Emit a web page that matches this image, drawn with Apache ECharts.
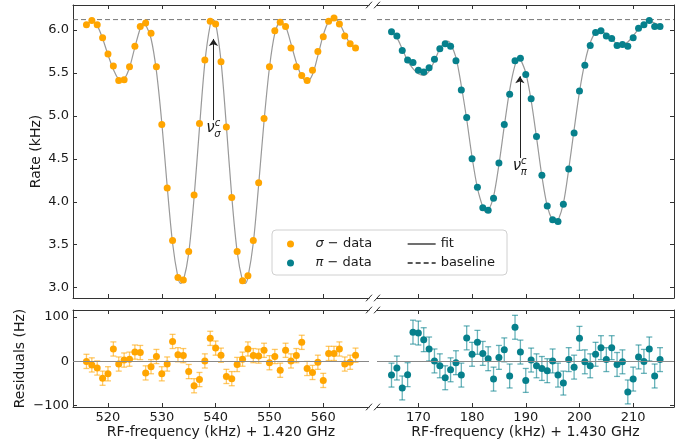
<!DOCTYPE html>
<html>
<head>
<meta charset="utf-8">
<script src="https://cdn.jsdelivr.net/npm/echarts@6/dist/echarts.min.js"></script>
<style>
    html, body { margin: 0; padding: 0; background: #fff; }
    #chart { width: 694px; height: 446px; }
</style>
</head>
<body>
<div id="chart"></div>
<script>
    // sigma data (left panel), kHz + 1.420 GHz
    var freqSigma = [516, 517, 518, 519, 520, 521, 522, 523, 524, 525, 526, 527, 528, 529, 530, 531, 532, 533, 534, 535, 536,
        537, 538, 539, 540, 541, 542, 543, 544, 545, 546, 547, 548, 549, 550, 551, 552, 553, 554, 555, 556, 557, 558,
        559, 560, 561, 562, 563, 564, 565, 566];
    var rateSigma = [6.06, 6.11, 6.06, 5.91, 5.72, 5.58, 5.41, 5.42, 5.57, 5.81, 6.04, 6.08, 5.96, 5.57, 4.90,
        4.16, 3.55, 3.12, 3.09, 3.42, 4.08, 4.91, 5.65, 6.10, 6.07, 5.63, 4.87, 4.05, 3.42, 3.08, 3.14, 3.55, 4.22,
        4.97, 5.57, 5.99, 6.09, 6.04, 5.79, 5.57, 5.47, 5.41, 5.53, 5.75, 5.92, 6.10, 6.14, 6.07, 5.93, 5.84, 5.79];
    var resSigma = [0, -8, -15, -38, -28, 28, -6, 3, 5, 21, 20, -26, -12, 11, -28, -6, 45, 15, 13, -23, -55, -41, 1,
        52, 30, 14, -34, -39, -7, 5, 28, 13, 12, 25, -3, 11, -20, 25, 1, 13, 43, -16, -25, -2, -43, 18, 18, 28, -6, -2, 14];
    var fitSigmaX = [516, 517, 518, 519, 520, 521, 522, 522.5, 523, 524, 525, 526, 526.5, 527, 528, 529, 530, 531, 532,
        533, 533.5, 534, 535, 536, 537, 538, 539, 539.5, 540, 541, 542, 543, 544, 545, 545.5, 546, 547, 548, 549, 550,
        551, 552, 553, 554, 555, 556, 557, 558, 559, 560, 561, 562, 563, 564, 565, 566];
    var fitSigmaY = [6.05, 6.11, 6.05, 5.90, 5.71, 5.54, 5.42, 5.40, 5.42, 5.56, 5.80, 6.02, 6.08, 6.06, 5.90, 5.52,
        4.92, 4.18, 3.52, 3.12, 3.05, 3.08, 3.40, 4.05, 4.86, 5.62, 6.06, 6.12, 6.08, 5.64, 4.88, 4.06, 3.42, 3.08, 3.05,
        3.12, 3.52, 4.20, 4.94, 5.56, 5.96, 6.09, 6.04, 5.84, 5.62, 5.46, 5.40, 5.48, 5.70, 5.94, 6.10, 6.14, 6.08,
        5.95, 5.84, 5.79];

    // pi data (right panel), kHz + 1.430 GHz
    var freqPi = [165, 166, 167, 168, 169, 170, 171, 172, 173, 174, 175, 176, 177, 178, 179, 180, 181, 182, 183, 184,
        185, 186, 187, 188, 189, 190, 191, 192, 193, 194, 195, 196, 197, 198, 199, 200, 201, 202, 203, 204, 205, 206,
        207, 208, 209, 210, 211, 212, 213, 214, 215];
    var ratePi = [5.98, 5.93, 5.76, 5.65, 5.62, 5.53, 5.51, 5.56, 5.66, 5.78, 5.84, 5.81, 5.64, 5.30, 4.98, 4.50,
        4.17, 3.93, 3.90, 4.04, 4.45, 4.90, 5.25, 5.64, 5.67, 5.48, 5.20, 4.76, 4.31, 3.95, 3.79, 3.77, 3.97, 4.38,
        4.80, 5.29, 5.59, 5.82, 5.97, 5.99, 5.93, 5.90, 5.82, 5.83, 5.81, 5.91, 6.02, 6.06, 6.11, 6.04, 6.04];
    var resPi = [-31, -15, -60, -30, 66, 64, 49, 28, 1, -10, -37, -19, -3, -31, 53, 16, 43, 18, 6, -40, 9, 26, -33,
        77, 21, -43, 3, -10, -16, -21, 1, -31, -49, 4, -13, 52, -1, -10, 16, 31, 4, 31, -7, -1, -69, -40, 10, 0, 28, -33, 4];
    var fitPiX = [165, 166, 167, 168, 169, 170, 171, 172, 173, 174, 175, 175.5, 176, 177, 178, 179, 180, 181, 182,
        182.5, 183, 184, 185, 186, 187, 188, 188.7, 189, 190, 191, 192, 193, 194, 195, 195.5, 196, 197, 198, 199, 200,
        201, 202, 203, 204, 205, 206, 207, 208, 209, 210, 211, 212, 213, 214, 215];
    var fitPiY = [5.99, 5.91, 5.78, 5.64, 5.55, 5.49, 5.47, 5.52, 5.64, 5.78, 5.86, 5.87, 5.84, 5.68, 5.35, 4.96,
        4.52, 4.16, 3.94, 3.88, 3.89, 4.06, 4.43, 4.88, 5.30, 5.59, 5.67, 5.66, 5.50, 5.18, 4.75, 4.30, 3.95, 3.78,
        3.76, 3.78, 3.98, 4.38, 4.84, 5.28, 5.62, 5.85, 5.97, 5.99, 5.95, 5.89, 5.84, 5.83, 5.86, 5.93, 6.01, 6.07,
        6.10, 6.08, 6.05];

    var baseline = 6.12;
    var errSigma = 16;   // Hz
    var errPi = 27;      // Hz

    // resonance markers: [x, arrow start, arrow end]
    var arrowSigma = [539.6, 4.95, 5.895];
    var arrowPi = [188.9, 4.51, 5.46];

    // axis limits and ticks
    var xLimSigma = [513.5, 568.5];
    var xLimPi = [162.3, 217.6];
    var yLimRate = [2.88, 6.29];
    var yLimRes = [-103, 116];
    var xTicksSigma = [520, 530, 540, 550, 560];
    var xTicksPi = [170, 180, 190, 200, 210];
    var yTicksRate = [3.0, 3.5, 4.0, 4.5, 5.0, 5.5, 6.0];
    var yTicksRes = [-100, 0, 100];

    var FONT = 'DejaVu Sans';
    var ORANGE = '#ffa500';
    var TEAL = '#06808c';
    var SPINE = '#333';
    var TXT = '#1a1a1a';

    // panel geometry (px)
    var L = { left: 73, width: 296 };
    var R = { left: 377, width: 297 };
    var TOP = { top: 5, height: 293 };
    var BOT = { top: 310, height: 97 };

    function zip(a, b) {
        var out = [];
        for (var i = 0; i < a.length; i++) {
            out.push([a[i], b[i]]);
        }
        return out;
    }

    function axis(gridIndex, position, lim, ticks, labels, extra) {
        var ax = {
            type: 'value',
            gridIndex: gridIndex,
            position: position,
            min: lim[0],
            max: lim[1],
            axisLine: { show: true, onZero: false, lineStyle: { color: SPINE, width: 1 } },
            axisTick: { show: true, inside: true, length: 4, customValues: ticks, lineStyle: { color: SPINE, width: 1 } },
            axisLabel: {
                show: labels, customValues: ticks, margin: 4,
                fontFamily: FONT, fontSize: 13, color: TXT
            },
            splitLine: { show: false }
        };
        for (var k in extra) {
            ax[k] = extra[k];
        }
        return ax;
    }

    function errBars(err, color) {
        return function (params, api) {
            var x = api.value(0), y = api.value(1);
            var lo = api.coord([x, y - err]);
            var hi = api.coord([x, y + err]);
            var cap = 3;
            var st = { stroke: color, lineWidth: 1.3 };
            return {
                type: 'group',
                children: [
                    { type: 'line', shape: { x1: lo[0], y1: lo[1], x2: hi[0], y2: hi[1] }, style: st },
                    { type: 'line', shape: { x1: lo[0] - cap, y1: lo[1], x2: lo[0] + cap, y2: lo[1] }, style: st },
                    { type: 'line', shape: { x1: hi[0] - cap, y1: hi[1], x2: hi[0] + cap, y2: hi[1] }, style: st }
                ]
            };
        };
    }

    var nameStyle = { fontFamily: FONT, fontSize: 14, color: TXT };
    var minusFmt = function (v) { return String(v).replace('-', '\u2212'); };
    var oneDec = function (v) { return v.toFixed(1); };

    var xAxes = [
        axis(0, 'bottom', xLimSigma, xTicksSigma, false, {}),
        axis(0, 'top', xLimSigma, xTicksSigma, false, {}),
        axis(1, 'bottom', xLimPi, xTicksPi, false, {}),
        axis(1, 'top', xLimPi, xTicksPi, false, {}),
        axis(2, 'bottom', xLimSigma, xTicksSigma, true, {
            name: 'RF-frequency (kHz) + 1.420 GHz', nameLocation: 'middle', nameGap: 18, nameTextStyle: nameStyle
        }),
        axis(2, 'top', xLimSigma, xTicksSigma, false, {}),
        axis(3, 'bottom', xLimPi, xTicksPi, true, {
            name: 'RF-frequency (kHz) + 1.430 GHz', nameLocation: 'middle', nameGap: 18, nameTextStyle: nameStyle
        }),
        axis(3, 'top', xLimPi, xTicksPi, false, {})
    ];
    var yAxes = [
        axis(0, 'left', yLimRate, yTicksRate, true, {
            name: 'Rate (kHz)', nameLocation: 'middle', nameGap: 30, nameTextStyle: nameStyle
        }),
        axis(1, 'right', yLimRate, yTicksRate, false, {}),
        axis(2, 'left', yLimRes, yTicksRes, true, {
            name: 'Residuals (Hz)', nameLocation: 'middle', nameGap: 46, nameTextStyle: nameStyle
        }),
        axis(3, 'right', yLimRes, yTicksRes, false, {})
    ];
    yAxes[0].axisLabel.formatter = oneDec;
    yAxes[2].axisLabel.formatter = minusFmt;

    var arrowLine = {
        silent: true,
        symbol: ['none', 'arrow'],
        symbolSize: 7,
        label: { show: false },
        lineStyle: { color: '#222', width: 1, type: 'solid' },
        animation: false
    };
    function arrowData(a) {
        return [[{ coord: [a[0], a[1]] }, { coord: [a[0], a[2]] }]];
    }
    function zeroLine() {
        return {
            silent: true,
            symbol: 'none',
            label: { show: false },
            lineStyle: { color: '#888', width: 1.2, type: 'solid' },
            data: [{ yAxis: 0 }],
            animation: false
        };
    }

    var series = [
        {
            name: 'baseline', type: 'line', xAxisIndex: 0, yAxisIndex: 0,
            data: [[xLimSigma[0], baseline], [xLimSigma[1], baseline]],
            symbol: 'none', lineStyle: { color: '#777', width: 1, type: [5, 3] }, z: 1
        },
        {
            name: 'baseline', type: 'line', xAxisIndex: 2, yAxisIndex: 1,
            data: [[xLimPi[0], baseline], [xLimPi[1], baseline]],
            symbol: 'none', lineStyle: { color: '#777', width: 1, type: [5, 3] }, z: 1
        },
        {
            name: 'fit', type: 'line', xAxisIndex: 0, yAxisIndex: 0,
            data: zip(fitSigmaX, fitSigmaY), smooth: 0.3, symbol: 'none', showSymbol: false,
            lineStyle: { color: '#999', width: 1.2 }, itemStyle: { color: '#333' }, z: 2,
            markLine: Object.assign({ data: arrowData(arrowSigma) }, arrowLine)
        },
        {
            name: 'fit', type: 'line', xAxisIndex: 2, yAxisIndex: 1,
            data: zip(fitPiX, fitPiY), smooth: 0.3, symbol: 'none', showSymbol: false,
            lineStyle: { color: '#999', width: 1.2 }, itemStyle: { color: '#333' }, z: 2,
            markLine: Object.assign({ data: arrowData(arrowPi) }, arrowLine)
        },
        {
            name: '\u03c3 \u2212 data', type: 'scatter', xAxisIndex: 0, yAxisIndex: 0,
            data: zip(freqSigma, rateSigma), symbolSize: 7, itemStyle: { color: ORANGE, opacity: 1 }, z: 3
        },
        {
            name: '\u03c0 \u2212 data', type: 'scatter', xAxisIndex: 2, yAxisIndex: 1,
            data: zip(freqPi, ratePi), symbolSize: 7, itemStyle: { color: TEAL, opacity: 1 }, z: 3
        },
        {
            type: 'custom', xAxisIndex: 4, yAxisIndex: 2, data: zip(freqSigma, resSigma),
            renderItem: errBars(errSigma, 'rgba(255,165,0,0.6)'), z: 2, silent: true
        },
        {
            type: 'scatter', xAxisIndex: 4, yAxisIndex: 2, data: zip(freqSigma, resSigma),
            symbolSize: 7, itemStyle: { color: ORANGE, opacity: 1 }, z: 3, markLine: zeroLine()
        },
        {
            type: 'custom', xAxisIndex: 6, yAxisIndex: 3, data: zip(freqPi, resPi),
            renderItem: errBars(errPi, 'rgba(6,128,140,0.6)'), z: 2, silent: true
        },
        {
            type: 'scatter', xAxisIndex: 6, yAxisIndex: 3, data: zip(freqPi, resPi),
            symbolSize: 7, itemStyle: { color: TEAL, opacity: 1 }, z: 3, markLine: zeroLine()
        }
    ];

    // axis break marks "//" at the panel joins
    var breaks = [];
    [TOP.top, TOP.top + TOP.height, BOT.top, BOT.top + BOT.height].forEach(function (y) {
        [L.left + L.width, R.left].forEach(function (cx) {
            breaks.push({
                type: 'line', silent: true, z: 20,
                shape: { x1: cx - 3, y1: y + 3.3, x2: cx + 3, y2: y - 3.3 },
                style: { stroke: SPINE, lineWidth: 1 }
            });
        });
    });

    var legendText = {
        fontFamily: FONT, fontSize: 13, color: TXT, lineHeight: 16,
        rich: {
            i: { fontFamily: FONT, fontSize: 13, fontStyle: 'italic', color: TXT, lineHeight: 16 }
        }
    };

    var option = {
        animation: false,
        backgroundColor: '#fff',
        grid: [
            { left: L.left, width: L.width, top: TOP.top, height: TOP.height },
            { left: R.left, width: R.width, top: TOP.top, height: TOP.height },
            { left: L.left, width: L.width, top: BOT.top, height: BOT.height },
            { left: R.left, width: R.width, top: BOT.top, height: BOT.height }
        ],
        xAxis: xAxes,
        yAxis: yAxes,
        legend: [
            {
                data: ['\u03c3 \u2212 data', '\u03c0 \u2212 data'],
                orient: 'vertical', left: 282, top: 231, z: 10,
                icon: 'circle', itemWidth: 40, itemHeight: 7, itemGap: 3,
                selectedMode: false, textStyle: legendText,
                formatter: function (n) { return '{i|' + n.charAt(0) + '}' + n.slice(1); }
            },
            {
                data: ['fit', 'baseline'],
                orient: 'vertical', left: 402, top: 231, z: 10,
                itemWidth: 28, itemHeight: 10, itemGap: 3,
                itemStyle: { opacity: 0 },
                lineStyle: { color: '#222', width: 1.3 },
                selectedMode: false,
                textStyle: legendText
            }
        ],
        graphic: [{
            type: 'rect', z: 5, silent: true,
            shape: { x: 272, y: 230, width: 235, height: 45, r: 4 },
            style: { fill: 'rgba(255,255,255,0.85)', stroke: '#d0d0d0', lineWidth: 1 }
        }].concat(breaks),
        series: series
    };

    var chart = echarts.init(document.getElementById('chart'), null, { renderer: 'canvas' });
    chart.setOption(option);

    // nu^c labels under the arrows
    function nuLabel(grid, a, sub) {
        var p = chart.convertToPixel({ gridIndex: grid }, [a[0], a[1]]);
        var base = { fontFamily: FONT, fill: TXT, align: 'center', verticalAlign: 'middle' };
        return [
            { type: 'text', z: 20, x: p[0] - 3, y: p[1] + 8,
              style: Object.assign({ text: '\u03bd', fontSize: 15, fontStyle: 'italic' }, base) },
            { type: 'text', z: 20, x: p[0] + 4, y: p[1] + 3,
              style: Object.assign({ text: 'c', fontSize: 10, fontStyle: 'italic' }, base) },
            { type: 'text', z: 20, x: p[0] + 4, y: p[1] + 14,
              style: Object.assign({ text: sub, fontSize: 10, fontStyle: 'italic' }, base) }
        ];
    }
    chart.setOption({
        graphic: option.graphic.concat(nuLabel(0, arrowSigma, '\u03c3'), nuLabel(1, arrowPi, '\u03c0'))
    });
</script>
</body>
</html>
